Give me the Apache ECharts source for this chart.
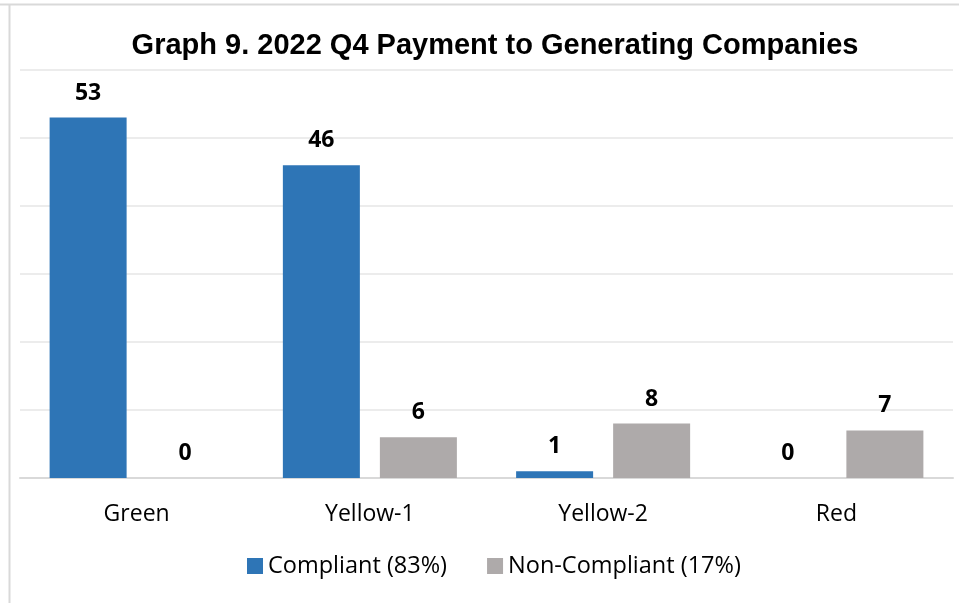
<!DOCTYPE html>
<html><head><meta charset="utf-8">
<script src="https://cdn.jsdelivr.net/npm/echarts@6/dist/echarts.min.js"></script>
<style>html,body{margin:0;padding:0;background:#fff}#c{width:959px;height:603px}</style>
</head><body><div id="c"></div>
<script>
var title = 'Graph 9. 2022 Q4 Payment to Generating Companies';
var categories = ['Green', 'Yellow-1', 'Yellow-2', 'Red'];
var compliantName = 'Compliant (83%)';
var compliant = [53, 46, 1, 0];
var nonCompliantName = 'Non-Compliant (17%)';
var nonCompliant = [0, 6, 8, 7];
var yMin = 0, yMax = 60, yStep = 10;

var chart = echarts.init(document.getElementById('c'), null, {renderer: 'canvas'});
var labelStyle = {show: true, position: 'top', distance: 13, fontFamily: 'Open Sans', fontWeight: 'bold', fontSize: 23, color: '#000'};
chart.setOption({
  animation: false,
  title: {text: title, left: 490, textAlign: 'center', top: 26, textStyle: {fontFamily: 'Liberation Sans', fontWeight: 'bold', fontSize: 29, color: '#000'}},
  graphic: [
    {type: 'line', shape: {x1: 0, y1: 4.5, x2: 959, y2: 4.5}, style: {stroke: '#d9d9d9', lineWidth: 2}},
    {type: 'line', shape: {x1: 9.5, y1: 4, x2: 9.5, y2: 603}, style: {stroke: '#d9d9d9', lineWidth: 2}}
  ],
  grid: {left: 20, right: 6, top: 70, bottom: 125, containLabel: false},
  legend: {bottom: 20, left: 242, itemWidth: 16, itemHeight: 16, itemGap: 40, icon: 'rect',
    textStyle: {fontFamily: 'Open Sans', fontSize: 23.5, color: '#000'}},
  xAxis: {type: 'category', data: categories, axisTick: {show: false},
    axisLine: {lineStyle: {color: '#d9d9d9', width: 2}},
    axisLabel: {fontFamily: 'Open Sans', fontSize: 23, color: '#000', margin: 25}},
  yAxis: {type: 'value', min: yMin, max: yMax, interval: yStep, axisLabel: {show: false},
    splitLine: {lineStyle: {color: '#ececec', width: 2}}},
  series: [
    {name: compliantName, type: 'bar', data: compliant, barWidth: 77, barGap: '26%', itemStyle: {color: '#2e75b6'}, label: labelStyle},
    {name: nonCompliantName, type: 'bar', data: nonCompliant, barWidth: 77, itemStyle: {color: '#aeaaaa'}, label: labelStyle}
  ]
});
</script></body></html>
